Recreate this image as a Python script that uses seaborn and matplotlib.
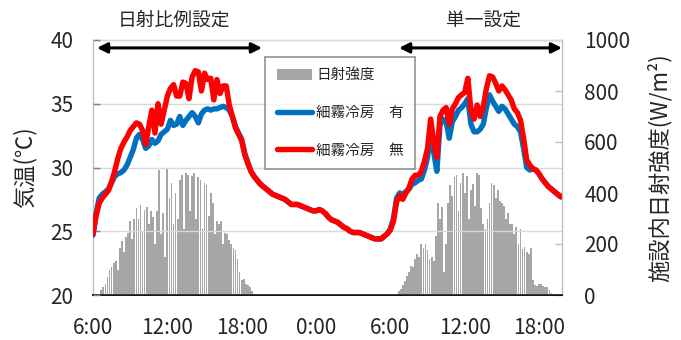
import matplotlib
matplotlib.use("Agg")
import numpy as np
import matplotlib.pyplot as plt
from matplotlib.patches import Patch
from matplotlib.lines import Line2D
import seaborn as sns

# ---- data -------------------------------------------------------------
# Air temperature (°C), 15-minute steps starting 6:00 on day 1
temp_step_h = 0.25
temp_no_mist = [  # 細霧冷房 無
    24.8, 26.2, 27.2, 27.6, 27.9, 28.2, 28.9, 29.7, 30.7, 31.5,
    32.0, 32.4, 32.9, 33.2, 33.5, 33.4, 32.9, 31.8, 33.2, 34.5,
    32.7, 35.0, 33.4, 34.5, 35.6, 36.2, 36.5, 35.6, 35.6, 36.7,
    36.6, 35.4, 37.1, 37.6, 37.5, 36.0, 37.4, 36.9, 37.0, 35.3,
    36.9, 35.8, 36.4, 36.4, 34.9, 34.0, 33.1, 32.6, 32.1, 31.0,
    30.3, 29.7, 29.3, 29.0, 28.7, 28.5, 28.3, 28.1, 27.9, 27.8,
    27.7, 27.6, 27.5, 27.3, 27.1, 27.1, 27.1, 27.0, 26.9, 26.8,
    26.7, 26.6, 26.6, 26.7, 26.6, 26.4, 26.1, 25.9, 25.8, 25.7,
    25.5, 25.3, 25.2, 25.0, 24.9, 24.9, 24.9, 24.8, 24.7, 24.6,
    24.5, 24.4, 24.4, 24.4, 24.6, 24.8, 25.1, 25.8, 27.3, 27.8,
    27.5, 28.0, 28.4, 29.1, 29.4, 29.4, 29.7, 30.5, 31.5, 33.8,
    32.0, 30.8, 34.0, 34.5, 34.7, 33.4, 34.6, 35.0, 35.5, 35.7,
    35.9, 37.0, 34.5, 33.8, 34.9, 34.0, 34.8, 36.2, 37.2, 37.1,
    36.6, 36.0, 36.4, 36.1, 35.7, 35.3, 34.6, 34.3, 33.7, 32.3,
    30.6, 30.2, 29.9, 29.8, 29.5, 29.1, 28.8, 28.5, 28.3, 28.1,
    27.9, 27.7,
]
temp_mist = [  # 細霧冷房 有
    24.7, 26.4, 27.6, 27.9, 28.1, 28.3, 28.8, 29.3, 29.5, 29.6,
    29.8, 30.2, 30.8, 31.4, 32.3, 32.6, 32.2, 31.5, 31.7, 32.2,
    31.9, 32.1, 32.6, 32.8, 33.0, 33.7, 33.3, 33.4, 34.0, 33.3,
    33.7, 34.0, 34.3, 34.0, 33.5, 34.2, 34.5, 34.6, 34.5, 34.6,
    34.6, 34.7, 34.8, 34.7, 34.5, 34.0, 33.2, 32.7, 32.2, 31.1,
    30.4, 29.7, 29.3, 29.0, 28.7, 28.5, 28.3, 28.1, 27.9, 27.8,
    27.7, 27.6, 27.5, 27.3, 27.1, 27.1, 27.1, 27.0, 26.9, 26.8,
    26.7, 26.6, 26.6, 26.7, 26.6, 26.4, 26.1, 25.9, 25.8, 25.7,
    25.5, 25.3, 25.2, 25.0, 24.9, 24.9, 24.9, 24.8, 24.7, 24.6,
    24.5, 24.4, 24.4, 24.4, 24.6, 24.8, 25.2, 26.0, 27.6, 28.0,
    27.9, 28.1, 28.3, 28.7, 28.8, 29.0, 29.1, 29.8, 30.8, 32.6,
    31.2, 29.7, 33.3, 33.8, 33.6, 32.3, 33.6, 34.0, 34.5, 34.7,
    35.0, 35.4, 33.4, 32.8, 32.8, 33.0, 33.4, 34.7, 35.7, 35.2,
    34.8, 34.4, 34.8, 34.6, 34.2, 33.8, 33.4, 33.2, 32.8, 31.5,
    30.0, 29.8, 29.9, 29.8, 29.5, 29.1, 28.8, 28.5, 28.3, 28.1,
    27.9, 27.7,
]

# Solar radiation inside the greenhouse (W/m2), 10-minute steps
rad_step_h = 1 / 6
rad_day1_start_h = 0.5    # 6:30 day 1
rad_day1 = [
    5, 20, 30, 45, 70, 100, 110, 125, 135, 100,
    185, 210, 170, 228, 245, 290, 220, 300, 340, 300,
    352, 250, 335, 345, 280, 330, 305, 200, 330, 490,
    240, 320, 150, 500, 380, 440, 280, 400, 300, 450,
    470, 260, 480, 470, 330, 465, 478, 300, 463, 450,
    260, 440, 430, 310, 400, 360, 240, 290, 280, 290,
    200, 245, 240, 215, 200, 185, 175, 140, 90, 60,
    62, 45, 40, 30, 15, 5,
]
rad_day2_start_h = 24.5   # 6:30 day 2
rad_day2 = [
    5, 15, 25, 40, 55, 75, 90, 115, 110, 140,
    160, 150, 200, 185, 200, 175, 140, 150, 135, 230,
    360, 300, 345, 90, 200, 360, 430, 390, 463, 470,
    330, 440, 478, 400, 465, 300, 410, 435, 350, 480,
    470, 340, 280, 260, 300, 360, 440, 430, 380, 410,
    370, 360, 350, 300, 320, 280, 280, 240, 265, 200,
    260, 180, 188, 170, 160, 185, 60, 40, 35, 45,
    42, 35, 30, 30, 20, 8,
]

tick_hours = [0, 6, 12, 18, 24, 30, 36]
tick_labels = ["6:00", "12:00", "18:00", "0:00", "6:00", "12:00", "18:00"]

label_rad = "日射強度"
label_mist = "細霧冷房\u3000有"
label_no_mist = "細霧冷房\u3000無"

# ---- derived x positions ------------------------------------------------
t_hours = np.arange(len(temp_no_mist)) * temp_step_h
rad_hours = np.concatenate([
    rad_day1_start_h + np.arange(len(rad_day1)) * rad_step_h,
    rad_day2_start_h + np.arange(len(rad_day2)) * rad_step_h,
])
rad_values = np.array(rad_day1 + rad_day2, dtype=float)

# ---- style --------------------------------------------------------------
sns.set_style("white")
plt.rcParams["font.family"] = ["Noto Sans CJK JP", "DejaVu Sans"]

C_BLUE = "#0070C0"
C_RED = "#FF0000"
C_BAR = "#A6A6A6"
C_FRAME = "#BFBFBF"
LW = 3.9

fig = plt.figure(figsize=(6.81, 3.40), dpi=100)
ax_rad = fig.add_axes([93 / 681, 45 / 340, 469 / 681, 255 / 340])
ax_t = ax_rad.twinx()

# radiation bars (right axis)
ax_rad.bar(rad_hours, rad_values, width=0.14, color=C_BAR, linewidth=0,
           antialiased=False, zorder=2)
ax_rad.set_ylim(0, 1000)
ax_rad.set_yticks([0, 200, 400, 600, 800, 1000])
ax_rad.yaxis.tick_right()
ax_rad.yaxis.set_label_position("right")
ax_rad.set_ylabel("施設内日射強度(W/m²)", fontsize=16, labelpad=12)

# temperature lines (left axis)
ax_t.yaxis.tick_left()
ax_t.yaxis.set_label_position("left")
line_kw = dict(linewidth=LW, solid_joinstyle="round", solid_capstyle="round",
               errorbar=None, legend=False)
sns.lineplot(x=t_hours, y=temp_mist, ax=ax_t, color=C_BLUE, **line_kw)
sns.lineplot(x=t_hours, y=temp_no_mist, ax=ax_t, color=C_RED, **line_kw)
ax_t.set_ylim(20, 40)
ax_t.set_yticks([20, 25, 30, 35, 40])
ax_t.grid(axis="y", color="#D9D9D9", linewidth=1.0, zorder=0)
ax_t.set_axisbelow(True)
ax_t.set_ylabel("気温(℃)", fontsize=16, labelpad=10)

ax_rad.set_xlim(0, 37.85)
ax_rad.set_xticks(tick_hours, tick_labels)
ax_rad.set_xlabel("")

for sp in ax_t.spines.values():
    sp.set_visible(False)
for name in ("left", "right", "top"):
    ax_rad.spines[name].set_color(C_FRAME)
    ax_rad.spines[name].set_linewidth(1.0)
ax_rad.spines["bottom"].set_color("black")
ax_rad.spines["bottom"].set_linewidth(1.3)

ax_rad.tick_params(axis="x", direction="in", length=6, width=1.0, color="black",
                   labelsize=15, pad=16)
ax_rad.tick_params(axis="y", direction="in", length=5, width=1.0, color=C_FRAME,
                   labelsize=15, pad=16)
ax_t.tick_params(axis="y", direction="in", length=5, width=1.0, color="#808080",
                 labelsize=15, pad=14)

# control-period arrows and captions
xtr = ax_t.get_xaxis_transform()
arrow_kw = dict(arrowstyle="<|-|>", color="black", lw=2.2, mutation_scale=15,
                shrinkA=0, shrinkB=0)
ax_t.annotate("", xy=(13.64, 0.969), xytext=(0.32, 0.969), xycoords=xtr,
              textcoords=xtr, arrowprops=arrow_kw, annotation_clip=False)
ax_t.annotate("", xy=(37.85, 0.969), xytext=(24.7, 0.969), xycoords=xtr,
              textcoords=xtr, arrowprops=arrow_kw, annotation_clip=False)
ax_t.text(6.5, 1.078, "日射比例設定", transform=xtr, ha="center", va="center",
          fontsize=13.5, clip_on=False)
ax_t.text(31.5, 1.078, "単一設定", transform=xtr, ha="center", va="center",
          fontsize=13.5, clip_on=False)

# legend
handles = [
    Patch(facecolor=C_BAR, edgecolor="none"),
    Line2D([], [], color=C_BLUE, linewidth=LW, solid_capstyle="round"),
    Line2D([], [], color=C_RED, linewidth=LW, solid_capstyle="round"),
]
leg = ax_t.legend(handles, [label_rad, label_mist, label_no_mist],
                  loc="upper left", bbox_to_anchor=(265 / 681, 1 - 57 / 340),
                  bbox_transform=fig.transFigure, borderaxespad=0,
                  fontsize=10.5, frameon=True, fancybox=False,
                  handlelength=2.4, handletextpad=0.3, labelspacing=1.6,
                  borderpad=0.8)
leg.get_frame().set_edgecolor("#808080")
leg.get_frame().set_linewidth(1.3)

fig.savefig("out.png", dpi=100)
